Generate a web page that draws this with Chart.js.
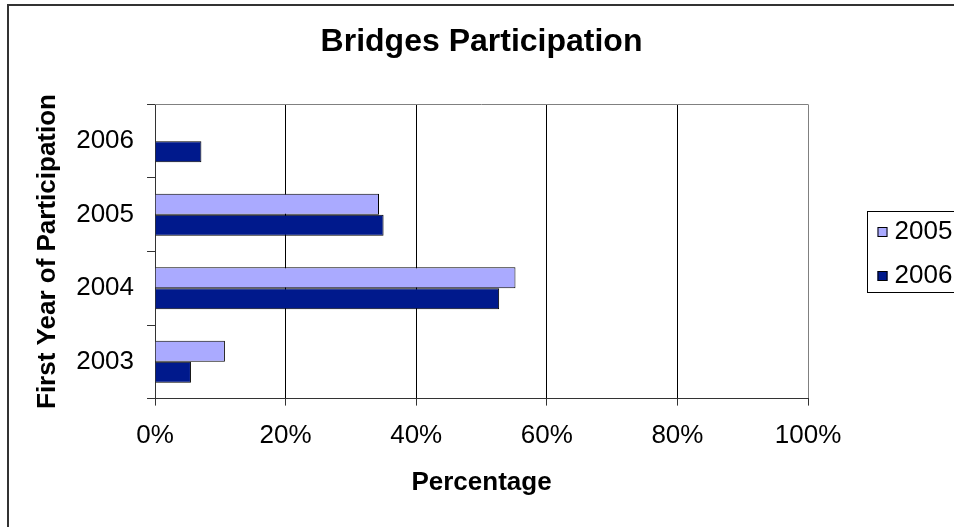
<!DOCTYPE html>
<html>
<head>
<meta charset="utf-8">
<title>Bridges Participation</title>
<script src="https://cdn.jsdelivr.net/npm/chart.js@4.4.1/dist/chart.umd.min.js"></script>
<style>
  body { margin: 0; background: #fff; }
  canvas { display: block; }
</style>
</head>
<body>
<canvas id="participationChart" width="954" height="527"></canvas>
<script>
// first year of participation, top to bottom
const years = ['2006', '2005', '2004', '2003'];
const seriesLabels = ['2005', '2006'];
const values2005 = [null, 34.3, 55.2, 10.7];
const values2006 = [7.1, 35.0, 52.7, 5.5];
const percentTicks = [0, 20, 40, 60, 80, 100];

const lightBlue = '#AAAAFF';
const navy = '#00198C';

Chart.defaults.font.family = '"Liberation Sans", Arial, sans-serif';
Chart.defaults.color = '#000';

// outer frame, plot top edge and the boxed legend
const framePlugin = {
    id: 'frame',
    afterDraw(chart) {
        const ctx = chart.ctx;
        const area = chart.chartArea;
        ctx.save();

        ctx.strokeStyle = '#333';
        ctx.lineWidth = 2;
        ctx.beginPath();
        ctx.moveTo(8, chart.height);
        ctx.lineTo(8, 5);
        ctx.lineTo(chart.width, 5);
        ctx.stroke();

        ctx.strokeStyle = '#808080';
        ctx.lineWidth = 1;
        ctx.beginPath();
        ctx.moveTo(area.left, Math.round(area.top) + 0.5);
        ctx.lineTo(area.right, Math.round(area.top) + 0.5);
        ctx.stroke();

        // legend box
        const boxLeft = Math.round(area.right) + 59.5;
        const midY = (area.top + area.bottom) / 2;
        ctx.strokeStyle = '#000';
        ctx.strokeRect(boxLeft, Math.round(midY) - 40.5, 120, 81);

        ctx.font = '26px "Liberation Sans", Arial, sans-serif';
        ctx.textBaseline = 'middle';
        chart.data.datasets.forEach((ds, i) => {
            const y = Math.round(midY - 20 + i * 44);
            ctx.fillStyle = ds.backgroundColor;
            ctx.fillRect(boxLeft + 10, y - 5, 10, 10);
            ctx.strokeStyle = '#000';
            ctx.strokeRect(boxLeft + 10.5, y - 4.5, 9, 9);
            ctx.fillStyle = '#000';
            ctx.fillText(ds.label, boxLeft + 27, y);
        });
        ctx.restore();
    }
};

const ctx = document.getElementById('participationChart').getContext('2d');

new Chart(ctx, {
    type: 'bar',
    data: {
        labels: years,
        datasets: [{
            label: seriesLabels[0],
            data: values2005,
            backgroundColor: lightBlue,
            borderColor: '#000',
            borderWidth: 1
        }, {
            label: seriesLabels[1],
            data: values2006,
            backgroundColor: navy,
            borderColor: '#000',
            borderWidth: 1
        }]
    },
    options: {
        indexAxis: 'y',
        responsive: false,
        animation: false,
        categoryPercentage: 0.57,
        barPercentage: 1,
        layout: {
            padding: { left: 23, right: 146, top: 0, bottom: 10 }
        },
        plugins: {
            legend: { display: false },
            tooltip: { enabled: false },
            title: {
                display: true,
                fullSize: false,
                text: 'Bridges Participation',
                color: '#000',
                font: { size: 32, weight: 'bold' },
                padding: { top: 23, bottom: 43 }
            }
        },
        scales: {
            x: {
                min: 0,
                max: 100,
                afterBuildTicks: scale => {
                    scale.ticks = percentTicks.map(v => ({ value: v }));
                },
                ticks: {
                    callback: v => v + '%',
                    font: { size: 26 },
                    padding: 15,
                    maxRotation: 0
                },
                grid: {
                    color: c => (c.tick && c.tick.value === 100) ? '#808080' : '#000',
                    tickColor: '#333',
                    tickLength: 7
                },
                border: { color: '#333' },
                title: {
                    display: true,
                    text: 'Percentage',
                    font: { size: 26, weight: 'bold' },
                    padding: { top: 0, bottom: 19 }
                }
            },
            y: {
                ticks: {
                    font: { size: 26 },
                    padding: 13
                },
                grid: {
                    drawOnChartArea: false,
                    tickColor: '#333',
                    tickLength: 8
                },
                border: { color: '#333' },
                title: {
                    display: true,
                    text: 'First Year of Participation',
                    font: { size: 26, weight: 'bold' },
                    padding: { top: 9, bottom: 0 }
                }
            }
        }
    },
    plugins: [framePlugin]
});
</script>
</body>
</html>
